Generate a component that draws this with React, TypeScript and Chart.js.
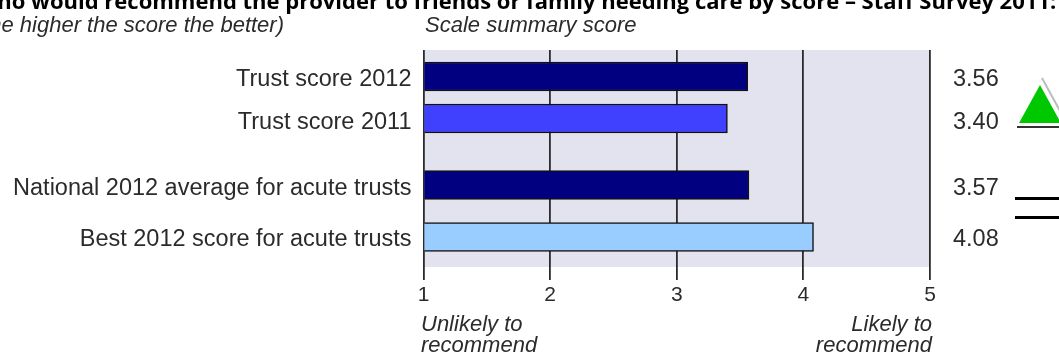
import { useEffect, useRef } from "react";
import { Chart, registerables } from "chart.js";

Chart.register(...registerables);

// Survey scores, one per row of the chart.
const categories = [
  "Trust score 2012",
  "Trust score 2011",
  "National 2012 average for acute trusts",
  "Best 2012 score for acute trusts",
];
const scores = [3.56, 3.4, 3.57, 4.08];
const scoreLabels = ["3.56", "3.40", "3.57", "4.08"];
const barColours = ["#000080", "#4040FF", "#000080", "#99CCFF"];
const xTicks = [1, 2, 3, 4, 5];

// Vertical layout of the uneven rows, in pixels below the top of the plot.
const rowCentres = [26.5, 68.5, 135, 187];
const rowLabelCentres = [29.5, 72.5, 138.5, 189.5];
const plotHeight = 217;

const SANS = '"Liberation Sans", Arial, sans-serif';
const INK = "#2b2b2b";

const annotations = {
  id: "annotations",
  beforeDraw(chart: any) {
    // Lavender plot background, painted under the grid lines.
    const { ctx, chartArea: a } = chart;
    ctx.save();
    ctx.fillStyle = "#E3E3F0";
    ctx.fillRect(a.left, a.top, a.right - a.left, a.bottom - a.top);
    ctx.restore();
  },
  afterDraw(chart: any) {
    const { ctx } = chart;
    ctx.save();
    ctx.textBaseline = "alphabetic";

    // Heading, running off the top and both sides of the canvas.
    ctx.fillStyle = "#000";
    ctx.textAlign = "left";
    ctx.font = 'bold 22px "Open Sans", sans-serif';
    ctx.fillText(
      "Who would recommend the provider to friends or family needing care by score – Staff Survey 2011:",
      -24,
      9
    );

    ctx.fillStyle = INK;
    ctx.font = `italic 22px ${SANS}`;
    ctx.textAlign = "right";
    ctx.fillText("(the higher the score the better)", 284, 32);
    ctx.textAlign = "left";
    ctx.fillText("Scale summary score", 425, 32);

    // Ends of the axis.
    ctx.fillText("Unlikely to", 421, 331);
    ctx.fillText("recommend", 421, 352);
    ctx.textAlign = "right";
    ctx.fillText("Likely to", 932, 331);
    ctx.fillText("recommend", 932, 352);

    // Improvement marker beside the trust scores.
    ctx.beginPath();
    ctx.moveTo(1042, 78);
    ctx.lineTo(1066, 122);
    ctx.strokeStyle = "#BDBDBD";
    ctx.lineWidth = 2;
    ctx.stroke();
    ctx.beginPath();
    ctx.moveTo(1040, 85);
    ctx.lineTo(1061, 123);
    ctx.lineTo(1019, 123);
    ctx.closePath();
    ctx.fillStyle = "#00C800";
    ctx.fill();
    ctx.fillStyle = "#333";
    ctx.fillRect(1017, 126, 42, 2);

    // "No change" marker beside the national average.
    ctx.fillStyle = "#000";
    ctx.fillRect(1015, 197, 44, 3);
    ctx.fillRect(1015, 216, 44, 3);
    ctx.restore();
  },
};

export default function App() {
  const ref = useRef<HTMLCanvasElement>(null);
  useEffect(() => {
    const chart = new Chart(ref.current!, {
      type: "bar",
      data: {
        datasets: [
          {
            data: scores.map((x, i) => ({ x, y: rowCentres[i] })),
            base: 1,
            backgroundColor: barColours,
            borderColor: "#111",
            borderWidth: 1.5,
            barThickness: 29,
            yAxisID: "y",
          } as any,
        ],
      },
      plugins: [annotations],
      options: {
        indexAxis: "y",
        animation: false,
        responsive: false,
        layout: { padding: { top: 50, left: 0, right: 0, bottom: 0 } },
        plugins: { legend: { display: false }, tooltip: { enabled: false } },
        scales: {
          x: {
            type: "linear",
            min: 1,
            max: 5,
            afterFit: (s: any) => { s.height = 87; },
            afterBuildTicks: (s: any) => { s.ticks = xTicks.map((value) => ({ value })); },
            grid: { color: "#2b2b2b", lineWidth: 1.8, tickLength: 13, drawTicks: true, z: 0 },
            border: { display: false },
            ticks: {
              color: INK,
              font: { family: SANS, size: 21 },
              padding: 3,
              maxRotation: 0,
            },
          },
          y: {
            type: "linear",
            position: "left",
            reverse: true,
            offset: false,
            min: 0,
            max: plotHeight,
            afterFit: (s: any) => { s.width = 423.5; },
            afterBuildTicks: (s: any) => { s.ticks = rowLabelCentres.map((value) => ({ value })); },
            grid: { display: false, drawTicks: false },
            border: { display: false },
            ticks: {
              color: INK,
              font: { family: SANS, size: 23.5 },
              padding: 12,
              autoSkip: false,
              callback: (v: any) => categories[rowLabelCentres.indexOf(v)],
            },
          },
          values: {
            type: "linear",
            position: "right",
            reverse: true,
            offset: false,
            min: 0,
            max: plotHeight,
            afterFit: (s: any) => { s.width = 129; },
            afterBuildTicks: (s: any) => { s.ticks = rowLabelCentres.map((value) => ({ value })); },
            grid: { display: false, drawTicks: false },
            border: { display: false },
            ticks: {
              color: INK,
              font: { family: SANS, size: 23.5 },
              padding: 23,
              autoSkip: false,
              callback: (v: any) => scoreLabels[rowLabelCentres.indexOf(v)],
            },
          },
        },
      },
    } as any);
    return () => chart.destroy();
  }, []);
  return (
    <div style={{ position: "fixed", left: 0, top: 0, width: 1059, height: 354, background: "#fff" }}>
      <canvas ref={ref} width={1059} height={354} style={{ display: "block" }} />
    </div>
  );
}
